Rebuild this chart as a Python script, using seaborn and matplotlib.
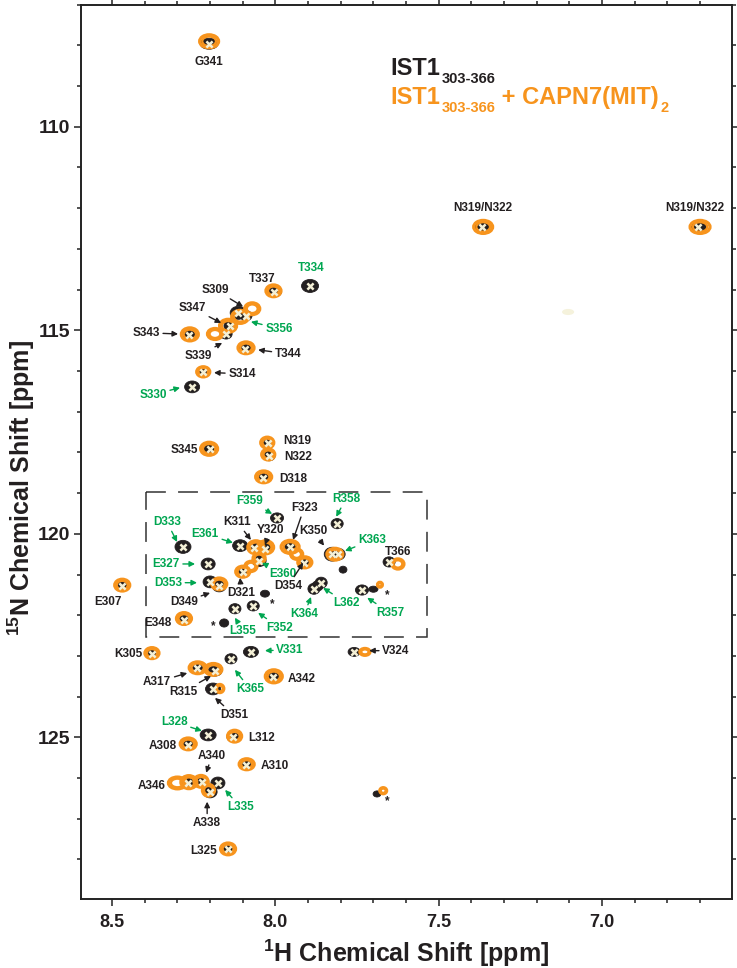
import numpy as np
import pandas as pd
import seaborn as sns
import matplotlib.pyplot as plt
from matplotlib.patches import Ellipse, Rectangle
from matplotlib.ticker import MultipleLocator

# free IST1(303-366): assignment, 1H / 15N shift (ppm), contour extent (ppm)
free_id = ['G341', 'N319/N322', 'N319/N322', 'T334', 'T337', 'S309', 'S356', 'S347',
           'S339', 'S343', 'T344', 'S314', 'S330', 'S345', 'N319', 'N322', 'D318',
           'F359', 'R358', 'D333', 'E361', 'K311', 'Y320', 'F323', 'K350', 'K363',
           'T366', 'E327', 'D353', 'D349', 'D321', 'E360', 'D354', '', 'K364', '',
           'L362', 'R357', '*', 'L355', 'F352', '*', '*', 'E348', 'E307', 'K305',
           'V331', 'K365', 'A317', 'R315', 'D351', 'A342', 'V324', 'L328', 'A308',
           'L312', 'A310', 'A346', 'A340', 'L335', 'A338', 'L325', '*']
free_h = [8.203, 7.367, 6.706, 7.894, 8.004, 8.114, 8.090, 8.139,
          8.151, 8.264, 8.093, 8.221, 8.255, 8.200, 8.022, 8.019, 8.038,
          7.995, 7.811, 8.283, 8.108, 8.065, 8.032, 7.955, 7.826, 7.808,
          7.652, 8.206, 8.200, 8.172, 8.099, 8.050, 7.912, 7.793, 7.882, 7.871,
          7.860, 7.735, 7.700, 8.124, 8.068, 8.032, 8.157, 8.280, 8.469, 8.378,
          8.075, 8.136, 8.240, 8.185, 8.191, 8.007, 7.759, 8.206, 8.267,
          8.130, 8.090, 8.267, 8.225, 8.176, 8.200, 8.145, 7.689]
free_n = [107.96, 112.46, 112.46, 113.91, 114.05, 114.57, 114.64, 114.89,
          115.09, 115.11, 115.45, 116.02, 116.39, 117.91, 117.76, 118.08, 118.62,
          119.61, 119.75, 120.32, 120.29, 120.34, 120.37, 120.32, 120.50, 120.50,
          120.69, 120.74, 121.18, 121.28, 120.93, 120.66, 120.71, 120.88, 121.35, 121.28,
          121.20, 121.38, 121.36, 121.84, 121.77, 121.47, 122.19, 122.11, 121.28, 122.95,
          122.90, 123.07, 123.29, 123.37, 123.81, 123.51, 122.90, 124.94, 125.18,
          124.99, 125.68, 126.12, 126.09, 126.12, 126.34, 127.74, 126.39]
free_dh = [0.055, 0.049, 0.052, 0.052, 0.046, 0.049, 0.037, 0.037,
           0.037, 0.043, 0.040, 0.031, 0.046, 0.040, 0.037, 0.037, 0.037,
           0.040, 0.037, 0.049, 0.046, 0.043, 0.043, 0.037, 0.049, 0.043,
           0.037, 0.043, 0.043, 0.043, 0.043, 0.043, 0.040, 0.024, 0.037, 0.034,
           0.037, 0.040, 0.028, 0.037, 0.037, 0.028, 0.028, 0.040, 0.037, 0.034,
           0.046, 0.037, 0.043, 0.043, 0.046, 0.040, 0.037, 0.049, 0.037,
           0.037, 0.034, 0.043, 0.043, 0.043, 0.043, 0.037, 0.024]
free_dn = [0.27, 0.27, 0.27, 0.32, 0.27, 0.32, 0.25, 0.25,
           0.25, 0.27, 0.27, 0.20, 0.29, 0.25, 0.25, 0.25, 0.25,
           0.25, 0.25, 0.32, 0.29, 0.29, 0.29, 0.25, 0.34, 0.29,
           0.25, 0.29, 0.29, 0.29, 0.29, 0.29, 0.27, 0.17, 0.27, 0.25,
           0.27, 0.25, 0.15, 0.25, 0.25, 0.17, 0.20, 0.27, 0.25, 0.22,
           0.27, 0.25, 0.27, 0.25, 0.29, 0.25, 0.22, 0.29, 0.25,
           0.25, 0.22, 0.25, 0.27, 0.29, 0.29, 0.25, 0.15]

# IST1(303-366) + CAPN7(MIT)2 peaks
bound_h = [8.203, 7.364, 6.700, 8.006, 8.071, 8.108, 8.145, 8.185, 8.262, 8.090,
           8.221, 8.203, 8.025, 8.022, 8.036, 8.060, 8.030, 7.955, 7.935, 7.910,
           8.050, 8.075, 8.100, 7.818, 7.625, 8.172, 8.280, 8.469, 8.378, 8.238,
           8.190, 8.170, 8.005, 7.726, 7.680, 8.267, 8.125, 8.088, 8.300, 8.265,
           8.228, 8.205, 8.145, 7.670]
bound_n = [107.90, 112.46, 112.46, 114.03, 114.47, 114.67, 114.89, 115.09, 115.10, 115.43,
           116.02, 117.91, 117.76, 118.05, 118.60, 120.33, 120.33, 120.32, 120.50, 120.70,
           120.60, 120.80, 120.93, 120.50, 120.74, 121.23, 122.08, 121.26, 122.93, 123.29,
           123.33, 123.80, 123.50, 122.90, 121.25, 125.16, 124.97, 125.66, 126.12, 126.10,
           126.08, 126.30, 127.74, 126.31]
bound_dh = [0.058, 0.058, 0.061, 0.046, 0.046, 0.052, 0.052, 0.046, 0.052, 0.049,
            0.040, 0.052, 0.040, 0.040, 0.049, 0.049, 0.049, 0.055, 0.037, 0.043,
            0.037, 0.037, 0.043, 0.049, 0.037, 0.046, 0.046, 0.046, 0.043, 0.052,
            0.052, 0.024, 0.052, 0.031, 0.015, 0.049, 0.043, 0.046, 0.055, 0.049,
            0.043, 0.037, 0.046, 0.021]
bound_dn = [0.32, 0.32, 0.32, 0.29, 0.29, 0.32, 0.32, 0.27, 0.32, 0.29,
            0.25, 0.32, 0.27, 0.27, 0.29, 0.32, 0.32, 0.32, 0.25, 0.27,
            0.25, 0.25, 0.27, 0.29, 0.25, 0.29, 0.29, 0.29, 0.27, 0.29,
            0.29, 0.20, 0.32, 0.17, 0.12, 0.29, 0.29, 0.27, 0.29, 0.32,
            0.29, 0.29, 0.29, 0.15]

# labels: text, colour key, text position (1H, 15N), arrow target or None
labels = [
    ('G341', 'k', 8.203, 108.40, None),
    ('N319/N322', 'k', 7.364, 111.99, None),
    ('N319/N322', 'k', 6.715, 111.99, None),
    ('T334', 'g', 7.891, 113.46, None),
    ('T337', 'k', 8.041, 113.73, None),
    ('S309', 'k', 8.185, 114.00, (8.099, 114.42)),
    ('S347', 'k', 8.255, 114.45, (8.166, 114.82)),
    ('S339', 'k', 8.237, 115.63, (8.163, 115.31)),
    ('S356', 'g', 7.989, 114.96, (8.075, 114.79)),
    ('S343', 'k', 8.396, 115.06, (8.298, 115.09)),
    ('T344', 'k', 7.961, 115.58, (8.053, 115.48)),
    ('S314', 'k', 8.102, 116.07, (8.188, 116.04)),
    ('S330', 'g', 8.375, 116.58, (8.292, 116.41)),
    ('S345', 'k', 8.280, 117.94, None),
    ('N319', 'k', 7.934, 117.71, None),
    ('N322', 'k', 7.931, 118.11, None),
    ('D318', 'k', 7.946, 118.65, None),
    ('F359', 'g', 8.078, 119.19, (8.010, 119.51)),
    ('R358', 'g', 7.784, 119.14, (7.814, 119.58)),
    ('F323', 'k', 7.912, 119.36, (7.946, 120.15)),
    ('D333', 'g', 8.332, 119.71, (8.301, 120.20)),
    ('K311', 'k', 8.117, 119.71, (8.075, 120.15)),
    ('Y320', 'k', 8.016, 119.90, (8.032, 120.27)),
    ('E361', 'g', 8.215, 120.00, (8.130, 120.22)),
    ('K350', 'k', 7.885, 119.93, (7.851, 120.29)),
    ('K363', 'g', 7.704, 120.15, (7.787, 120.42)),
    ('T366', 'k', 7.625, 120.44, None),
    ('E327', 'g', 8.335, 120.74, (8.246, 120.74)),
    ('D353', 'g', 8.329, 121.20, (8.240, 121.20)),
    ('D349', 'k', 8.280, 121.67, (8.200, 121.45)),
    ('D321', 'k', 8.105, 121.45, (8.108, 121.08)),
    ('E360', 'g', 7.977, 120.98, (8.041, 120.71)),
    ('D354', 'k', 7.961, 121.28, (7.915, 120.71)),
    ('K364', 'g', 7.912, 121.97, (7.891, 121.55)),
    ('L362', 'g', 7.781, 121.70, (7.854, 121.33)),
    ('R357', 'g', 7.649, 121.94, (7.719, 121.57)),
    ('L355', 'g', 8.099, 122.38, (8.124, 122.06)),
    ('F352', 'g', 7.986, 122.31, (8.053, 121.94)),
    ('E348', 'k', 8.359, 122.19, None),
    ('E307', 'k', 8.512, 121.67, None),
    ('K305', 'k', 8.451, 122.95, None),
    ('V331', 'g', 7.955, 122.85, (8.032, 122.87)),
    ('K365', 'g', 8.078, 123.81, (8.124, 123.34)),
    ('A317', 'k', 8.362, 123.64, (8.270, 123.42)),
    ('R315', 'k', 8.283, 123.88, (8.197, 123.49)),
    ('D351', 'k', 8.127, 124.45, (8.185, 124.03)),
    ('A342', 'k', 7.921, 123.56, None),
    ('V324', 'k', 7.631, 122.87, (7.713, 122.87)),
    ('L328', 'g', 8.310, 124.62, (8.225, 124.84)),
    ('A308', 'k', 8.344, 125.21, None),
    ('L312', 'k', 8.041, 125.01, None),
    ('A310', 'k', 8.001, 125.70, None),
    ('A340', 'k', 8.194, 125.45, (8.212, 125.87)),
    ('A346', 'k', 8.378, 126.19, None),
    ('L335', 'g', 8.108, 126.71, (8.154, 126.29)),
    ('A338', 'k', 8.209, 127.10, (8.209, 126.58)),
    ('L325', 'k', 8.221, 127.79, None),
    ('*', 'k', 8.191, 122.26, None),
    ('*', 'k', 8.010, 121.72, None),
    ('*', 'k', 7.658, 121.50, None),
    ('*', 'k', 7.658, 126.56, None),
]

box_h = (8.396, 7.536)
box_n = (118.97, 122.53)

BLACK = '#231f20'
GREEN = '#00a651'
ORANGE = '#f7941d'
CREAM = '#f4f0d6'

sns.set_theme(style='ticks')
plt.rcParams['font.family'] = ['Liberation Sans', 'DejaVu Sans']
plt.rcParams['font.weight'] = 'bold'
plt.rcParams['mathtext.fontset'] = 'custom'
plt.rcParams['mathtext.rm'] = 'Liberation Sans:bold'
plt.rcParams['mathtext.bf'] = 'Liberation Sans:bold'
plt.rcParams['mathtext.default'] = 'bf'

free = pd.DataFrame({'id': free_id, 'H': free_h, 'N': free_n, 'dH': free_dh, 'dN': free_dn})
bound = pd.DataFrame({'H': bound_h, 'N': bound_n, 'dH': bound_dh, 'dN': bound_dn})

fig = plt.figure(figsize=(7.37, 9.68), dpi=100)
ax = fig.add_axes([0.110, 0.0713, 0.8833, 0.9239])

# free spectrum: solid black contours
for r in free.itertuples():
    ax.add_patch(Ellipse((r.H, r.N), r.dH, r.dN, facecolor=BLACK, edgecolor=BLACK,
                         lw=0.6, zorder=2))

# complex: orange contour rings
for r in bound.itertuples():
    for sc, lw in [(1.0, 2.3), (0.72, 1.6)]:
        ax.add_patch(Ellipse((r.H, r.N), r.dH * sc, r.dN * sc, facecolor='none',
                             edgecolor=ORANGE, lw=lw, zorder=3))

# faint artefact
ax.add_patch(Ellipse((7.104, 114.55), 0.037, 0.15, facecolor='#f5f2dc', edgecolor='none', zorder=1))

# peak picks
picked = free[free['id'].str.len() > 1]
sns.scatterplot(data=picked, x='H', y='N', marker='x', s=20, color=CREAM,
                linewidth=1.8, zorder=4, ax=ax, legend=False)

ax.add_patch(Rectangle((box_h[0], box_n[0]), box_h[1] - box_h[0], box_n[1] - box_n[0],
                       fill=False, edgecolor='#333333', lw=1.1, ls=(0, (13, 8)), zorder=1))

for txt, ck, tx, ty, tip in labels:
    col = GREEN if ck == 'g' else BLACK
    if tip is None:
        ax.text(tx, ty, txt, color=col, fontsize=8.5, fontweight='bold',
                ha='center', va='center', zorder=5)
    else:
        ax.annotate(txt, xy=tip, xytext=(tx, ty), color=col, fontsize=8.5,
                    fontweight='bold', ha='center', va='center', zorder=5,
                    arrowprops=dict(arrowstyle='-|>', color=col, lw=1.0,
                                    mutation_scale=8, shrinkA=0, shrinkB=0))

# legend text
t1 = ax.text(7.649, 108.72, 'IST1', color=BLACK, fontsize=17, fontweight='bold',
             va='baseline', ha='left')
ax.annotate('303-366', xy=(1, 0), xycoords=t1, xytext=(1, -2.5), textcoords='offset points',
            color=BLACK, fontsize=10.5, fontweight='bold', va='baseline', ha='left')
t2 = ax.text(7.649, 109.43, 'IST1', color=ORANGE, fontsize=17, fontweight='bold',
             va='baseline', ha='left')
s2 = ax.annotate('303-366', xy=(1, 0), xycoords=t2, xytext=(1, -2.5), textcoords='offset points',
                 color=ORANGE, fontsize=10.5, fontweight='bold', va='baseline', ha='left')
t3 = ax.annotate(' + CAPN7(MIT)', xy=(1, 0), xycoords=(s2, t2), xytext=(0, 0),
                 textcoords='offset points', color=ORANGE, fontsize=17, fontweight='bold',
                 va='bottom', ha='left')
ax.annotate('2', xy=(1, 0), xycoords=t3, xytext=(1, -2.5), textcoords='offset points',
            color=ORANGE, fontsize=10.5, fontweight='bold', va='baseline', ha='left')

ax.set_xlim(8.595, 6.602)
ax.set_ylim(128.97, 107.0)
ax.xaxis.set_major_locator(MultipleLocator(0.5))
ax.xaxis.set_minor_locator(MultipleLocator(0.1))
ax.yaxis.set_major_locator(MultipleLocator(5))
ax.yaxis.set_minor_locator(MultipleLocator(1))
ax.tick_params(which='both', direction='out', top=True, right=True, color='#222222', width=1.1)
ax.tick_params(which='major', length=5)
ax.tick_params(which='minor', length=3)
ax.tick_params(axis='x', labelsize=13, pad=6)
ax.tick_params(axis='y', labelsize=14, pad=3)
for lab in ax.get_xticklabels() + ax.get_yticklabels():
    lab.set_fontweight('bold')
    lab.set_color(BLACK)
for sp in ax.spines.values():
    sp.set_visible(True)
    sp.set_color('#222222')
    sp.set_linewidth(1.4)

ax.set_xlabel('$^{1}$H Chemical Shift [ppm]', fontsize=18, fontweight='bold', color=BLACK)
ax.set_ylabel('$^{15}$N Chemical Shift [ppm]', fontsize=18, fontweight='bold', color=BLACK)
ax.xaxis.set_label_coords(0.5, -0.043)
ax.yaxis.set_label_coords(-0.068, 0.459)

fig.savefig('out.png', dpi=100)
